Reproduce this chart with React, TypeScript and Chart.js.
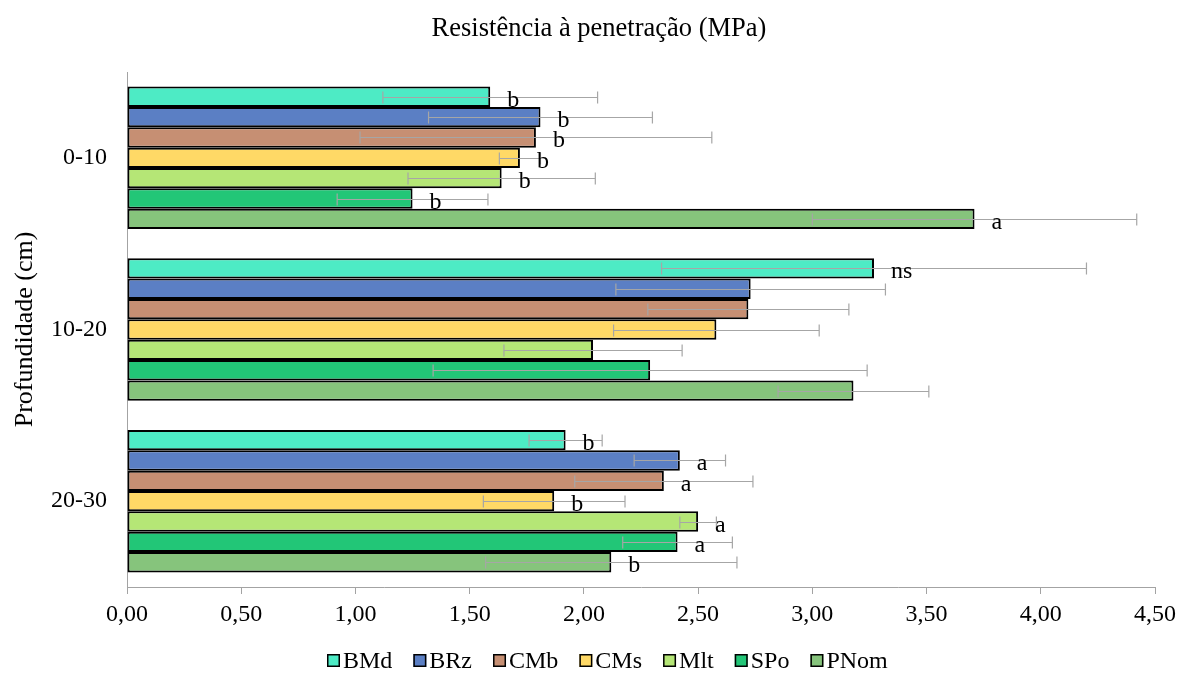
import React, { useEffect, useRef } from 'react';
import { Chart, registerables } from 'chart.js';

Chart.register(...registerables);

const FONT = '"Liberation Serif", "Times New Roman", serif';
const AXIS_GREY = '#a3a3a3';
const ERR_GREY = '#a6a6a6';

const chartTitle = 'Resistência à penetração (MPa)';
const yTitle = 'Profundidade (cm)';
const depths = ['0-10', '10-20', '20-30'];
const treatments = ['BMd', 'BRz', 'CMb', 'CMs', 'Mlt', 'SPo', 'PNom'];
const colors = ['#4DEBC5', '#5B7FC4', '#C68F73', '#FFD966', '#B5E676', '#22C677', '#86C47C'];

// means per treatment, one value per depth layer
const meanBMd = [1.59, 3.27, 1.92];
const meanBRz = [1.81, 2.73, 2.42];
const meanCMb = [1.79, 2.72, 2.35];
const meanCMs = [1.72, 2.58, 1.87];
const meanMlt = [1.64, 2.04, 2.5];
const meanSPo = [1.25, 2.29, 2.41];
const meanPNom = [3.71, 3.18, 2.12];

// standard deviations
const sdBMd = [0.47, 0.93, 0.16];
const sdBRz = [0.49, 0.59, 0.2];
const sdCMb = [0.77, 0.44, 0.39];
const sdCMs = [0.09, 0.45, 0.31];
const sdMlt = [0.41, 0.39, 0.08];
const sdSPo = [0.33, 0.95, 0.24];
const sdPNom = [0.71, 0.33, 0.55];

// mean-comparison letters
const letBMd = ['b', 'ns', 'b'];
const letBRz = ['b', '', 'a'];
const letCMb = ['b', '', 'a'];
const letCMs = ['b', '', 'b'];
const letMlt = ['b', '', 'a'];
const letSPo = ['b', '', 'a'];
const letPNom = ['a', '', 'b'];

const means = [meanBMd, meanBRz, meanCMb, meanCMs, meanMlt, meanSPo, meanPNom];
const sds = [sdBMd, sdBRz, sdCMb, sdCMs, sdMlt, sdSPo, sdPNom];
const letters = [letBMd, letBRz, letCMb, letCMs, letMlt, letSPo, letPNom];

const xTicks = { min: 0, max: 4.5, step: 0.5 };

const errorBarsAndLetters = {
  id: 'errorBarsAndLetters',
  afterDatasetsDraw(chart: any) {
    const { ctx } = chart;
    const xs = chart.scales.x;
    ctx.save();
    ctx.strokeStyle = ERR_GREY;
    ctx.lineWidth = 1.2;
    chart.data.datasets.forEach((ds: any, di: number) => {
      const meta = chart.getDatasetMeta(di);
      meta.data.forEach((bar: any, i: number) => {
        const v = ds.data[i];
        const e = sds[di][i];
        const x1 = xs.getPixelForValue(v - e);
        const x2 = xs.getPixelForValue(v + e);
        const y = Math.round(bar.y) + 0.5;
        ctx.beginPath();
        ctx.moveTo(x1, y);
        ctx.lineTo(x2, y);
        ctx.moveTo(x1, y - 6);
        ctx.lineTo(x1, y + 6);
        ctx.moveTo(x2, y - 6);
        ctx.lineTo(x2, y + 6);
        ctx.stroke();
      });
    });
    ctx.fillStyle = '#000';
    ctx.font = `24px ${FONT}`;
    ctx.textAlign = 'left';
    ctx.textBaseline = 'alphabetic';
    chart.data.datasets.forEach((_ds: any, di: number) => {
      const meta = chart.getDatasetMeta(di);
      meta.data.forEach((bar: any, i: number) => {
        const t = letters[di][i];
        if (t) ctx.fillText(t, bar.x + 17, bar.y + 10);
      });
    });
    ctx.restore();
  },
};

const titleAndLegend = {
  id: 'titleAndLegend',
  afterDraw(chart: any) {
    const { ctx } = chart;
    ctx.save();
    ctx.fillStyle = '#000';
    ctx.font = `26.5px ${FONT}`;
    ctx.textAlign = 'center';
    ctx.textBaseline = 'alphabetic';
    ctx.fillText(chartTitle, 599, 36);

    ctx.font = `24px ${FONT}`;
    ctx.textAlign = 'left';
    let x = 327;
    const boxTop = 654;
    const box = 13;
    treatments.forEach((name, i) => {
      ctx.fillStyle = colors[i];
      ctx.fillRect(x, boxTop, box, box);
      ctx.strokeStyle = '#000';
      ctx.lineWidth = 1.5;
      ctx.strokeRect(x + 0.75, boxTop + 0.75, box - 1.5, box - 1.5);
      ctx.fillStyle = '#000';
      ctx.fillText(name, x + box + 3, 668);
      x += box + 3 + ctx.measureText(name).width + 21;
    });
    ctx.restore();
  },
};

export default function App() {
  const ref = useRef<HTMLCanvasElement>(null);

  useEffect(() => {
    document.body.style.margin = '0';
    const canvas = ref.current;
    if (!canvas) return;
    const chart = new Chart(canvas, {
      type: 'bar',
      data: {
        labels: depths,
        datasets: treatments.map((name, i) => ({
          label: name,
          data: means[i],
          backgroundColor: colors[i],
          borderColor: '#000',
          borderWidth: 2,
          borderSkipped: false,
          categoryPercentage: 0.83,
          barPercentage: 1,
        })),
      },
      options: {
        indexAxis: 'y',
        responsive: false,
        animation: false,
        devicePixelRatio: 1,
        layout: { padding: { top: 72, right: 31, bottom: 43, left: 0 } },
        plugins: {
          legend: { display: false },
          title: { display: false },
          tooltip: { enabled: false },
        },
        scales: {
          x: {
            min: xTicks.min,
            max: xTicks.max,
            ticks: {
              stepSize: xTicks.step,
              autoSkip: false,
              maxRotation: 0,
              padding: 6,
              color: '#000',
              font: { family: FONT, size: 24 },
              callback: (v: any) => Number(v).toFixed(2).replace('.', ','),
            },
            grid: {
              display: true,
              drawOnChartArea: false,
              drawTicks: true,
              tickLength: 7,
              color: AXIS_GREY,
              lineWidth: 1,
            },
            border: { display: true, color: AXIS_GREY, width: 1 },
            afterFit: (s: any) => {
              s.height = 50;
            },
          },
          y: {
            ticks: {
              padding: 20,
              color: '#000',
              font: { family: FONT, size: 24 },
            },
            grid: { display: false, drawTicks: false },
            border: { display: true, color: AXIS_GREY, width: 1 },
            title: {
              display: true,
              text: yTitle,
              color: '#000',
              font: { family: FONT, size: 26 },
              padding: { top: 10, bottom: 0 },
            },
            afterFit: (s: any) => {
              s.width = 127;
            },
          },
        },
      },
      plugins: [errorBarsAndLetters, titleAndLegend],
    });
    return () => chart.destroy();
  }, []);

  return (
    <div style={{ width: 1186, height: 680 }}>
      <canvas ref={ref} width={1186} height={680} />
    </div>
  );
}
